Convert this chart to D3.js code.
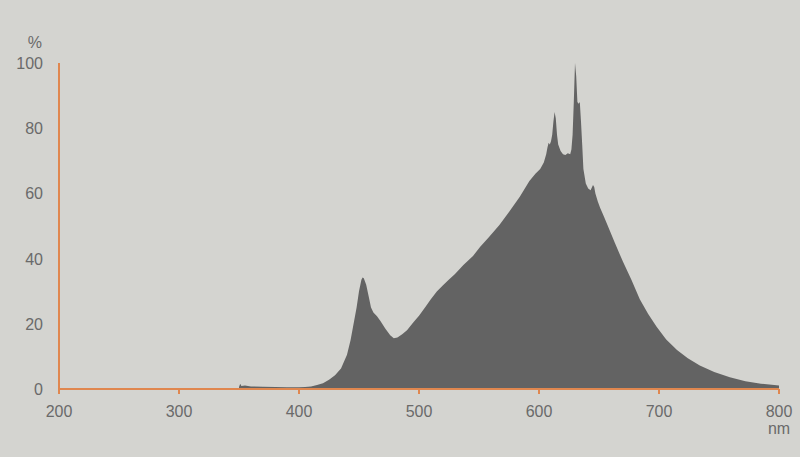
<!DOCTYPE html>
<html>
<head>
<meta charset="utf-8">
<script src="https://cdn.jsdelivr.net/npm/d3@7"></script>
<style>
  body { margin: 0; background: #d4d4d0; }
  svg { display: block; }
  text { font-family: "Liberation Sans", Arial, sans-serif; fill: #6a6a6a; font-size: 16px; }
</style>
</head>
<body>
<div id="chart"></div>
<script>
// spectrum (nm, %)
const wavelengths = [350, 351, 352, 355, 360, 370, 380, 390, 400, 405, 410, 415, 420, 425, 430, 435, 440, 443, 446, 448,
  450, 452, 453, 454, 456, 458, 460, 462, 465, 468, 472, 476, 479, 482, 486, 490, 495, 500, 505, 510,
  515, 520, 525, 530, 537, 545, 551, 558, 567, 575, 584, 592, 597, 601, 604, 606, 607, 608, 609, 610,
  611, 612, 613, 614, 615, 616, 618, 620, 622, 624, 626, 627, 628, 629, 630, 631, 632, 633, 634, 635,
  636, 637, 639, 641, 643, 645, 646, 647, 649, 651, 654, 658, 663, 670, 677, 684, 691, 698, 706, 715,
  724, 734, 746, 759, 772, 785, 800];
const intensity = [0.6, 1.6, 0.9, 1.1, 0.8, 0.7, 0.6, 0.5, 0.5, 0.6, 0.8, 1.2, 1.8, 2.8, 4.2, 6.3, 10.5, 15, 21, 25,
  30, 33.5, 34.2, 34, 32, 28.5, 25, 23.5, 22.3, 20.8, 18.5, 16.5, 15.6, 15.8, 16.8, 18, 20.3, 22.5, 25, 27.6,
  30, 31.8, 33.6, 35.3, 38, 40.8, 43.6, 46.5, 50.3, 54.3, 59, 63.8, 66, 67.5, 69.5, 72, 74, 75.5, 75, 76,
  78, 82, 85, 83, 78, 75, 73, 72, 71.8, 72.3, 72, 73.5, 78, 88, 100, 96, 88, 87.5, 88, 82,
  75, 67.5, 63, 61.5, 61, 62.6, 62, 60, 57.5, 55.5, 53, 49.5, 45, 39, 33.5, 27.5, 23, 19.1, 15.2, 12,
  9.4, 7.2, 5.2, 3.6, 2.4, 1.6, 1.1];

const xTicks = [200, 300, 400, 500, 600, 700, 800];
const yTicks = [0, 20, 40, 60, 80, 100];

const width = 800, height = 457;
const margin = {left: 59, right: 21, top: 63, bottom: 68};

const svg = d3.select("#chart").append("svg")
  .attr("width", width)
  .attr("height", height);

const x = d3.scaleLinear().domain([200, 800]).range([margin.left, width - margin.right]);
const y = d3.scaleLinear().domain([0, 100]).range([height - margin.bottom, margin.top]);

const data = wavelengths.map((w, i) => ({w: w, v: intensity[i]}));

const area = d3.area()
  .x(d => x(d.w))
  .y0(y(0))
  .y1(d => y(d.v));

svg.append("path")
  .datum(data)
  .attr("d", area)
  .attr("fill", "#636363");

const orange = "#e0874f";

// axes
svg.append("line")
  .attr("x1", x(200)).attr("x2", x(200))
  .attr("y1", y(100)).attr("y2", y(0))
  .attr("stroke", orange).attr("stroke-width", 2);

svg.append("line")
  .attr("x1", x(200)).attr("x2", x(800))
  .attr("y1", y(0)).attr("y2", y(0))
  .attr("stroke", orange).attr("stroke-width", 2);

svg.selectAll(".xtick")
  .data(xTicks)
  .enter().append("line")
  .attr("x1", d => x(d)).attr("x2", d => x(d))
  .attr("y1", y(0)).attr("y2", y(0) + 5)
  .attr("stroke", orange).attr("stroke-width", 2);

svg.selectAll(".xlabel")
  .data(xTicks)
  .enter().append("text")
  .attr("x", d => x(d))
  .attr("y", y(0) + 28)
  .attr("text-anchor", "middle")
  .text(d => d);

svg.selectAll(".ylabel")
  .data(yTicks)
  .enter().append("text")
  .attr("x", 43)
  .attr("y", d => y(d) + 6)
  .attr("text-anchor", "end")
  .text(d => d);

svg.append("text")
  .attr("x", 42).attr("y", 48)
  .attr("text-anchor", "end")
  .text("%");

svg.append("text")
  .attr("x", x(800)).attr("y", y(0) + 45)
  .attr("text-anchor", "middle")
  .text("nm");
</script>
</body>
</html>
